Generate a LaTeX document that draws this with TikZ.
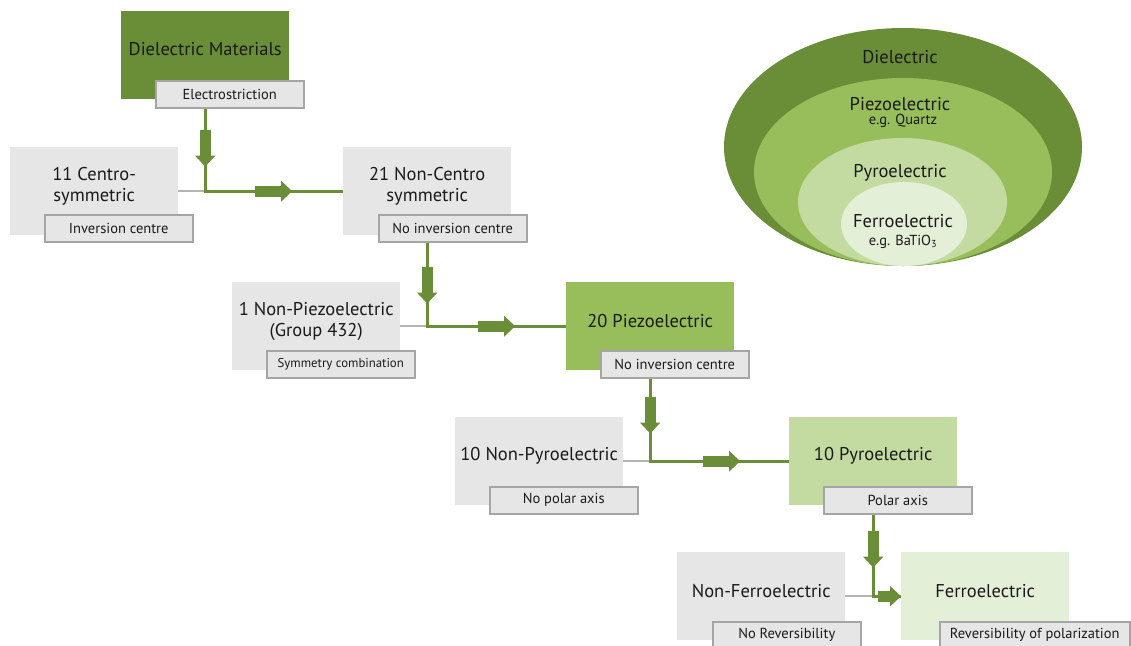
\documentclass[tikz,border=0pt]{standalone}
\usepackage{fontspec}
\setmainfont{PT Sans}
\usetikzlibrary{arrows.meta,calc}
\definecolor{dkgreen}{RGB}{106,141,56}
\definecolor{midgreen}{RGB}{151,190,90}
\definecolor{ltgreen}{RGB}{195,219,160}
\definecolor{paleg}{RGB}{228,239,216}
\definecolor{boxgray}{RGB}{230,230,230}
\definecolor{lblborder}{RGB}{165,165,165}
\definecolor{linegray}{RGB}{180,180,180}
\definecolor{txt}{RGB}{26,26,26}
\begin{document}
\begin{tikzpicture}[x=1pt,y=-1pt,
  box/.style={rectangle, fill=boxgray, minimum width=168pt, minimum height=88pt, inner sep=0pt, anchor=north west},
  btext/.style={align=center, font=\fontsize{18.5}{21.5}\selectfont, inner sep=0pt, text=txt},
  etext/.style={align=center, font=\fontsize{18.5}{21}\selectfont, inner sep=0pt, text=txt},
  stext/.style={align=center, font=\fontsize{14.5}{16}\selectfont, inner sep=0pt, text=txt},
  lbl/.style={rectangle, fill=boxgray, draw=lblborder, line width=1.5pt, minimum width=148pt, minimum height=27pt, inner sep=0pt, anchor=north west, font=\fontsize{14.5}{16}\selectfont, text=txt},
  conn/.style={dkgreen, line width=3pt},
  gline/.style={linegray, line width=2pt},
  blk/.style={dkgreen, line width=11pt, -{Triangle[width=20pt,length=11pt]}}]
\useasboundingbox (0,0) rectangle (1131,645);

% ---- nested ellipses ----
\fill[dkgreen] (903,147) ellipse [x radius=179pt, y radius=119pt];
\fill[midgreen] (903,172) ellipse [x radius=149pt, y radius=94pt];
\fill[ltgreen] (902.5,202) ellipse [x radius=104.5pt, y radius=64pt];
\fill[paleg] (904,224) ellipse [x radius=63pt, y radius=42pt];
\node[etext] (e1) at (900,57) {Dielectric};
\node[etext] (e2) at (900,104) {Piezoelectric};
\node[stext] (e2b) at (903,121) {e.g. Quartz};
\node[etext] (e3) at (900,173) {Pyroelectric};
\node[etext] (e4) at (903,221) {Ferroelectric};
\node[stext] (e4b) at (903,242) {e.g. BaTiO\textsubscript{3}};

% ---- boxes ----
\node[box, fill=dkgreen] (dm) at (121,11) {};
\node[btext] (dmt) at ($(dm.center)+(0,-6)$) {Dielectric Materials};
\node[lbl] (l0) at (155,80) {Electrostriction};

\node[box] (n11) at (10,147) {};
\node[btext] (n11t) at ($(n11.center)+(0,-5)$) {11 Centro-\\symmetric};
\node[lbl] (l11) at (44,214) {Inversion centre};

\node[box] (n21) at (343,147) {};
\node[btext] (n21t) at ($(n21.center)+(0,-5)$) {21 Non-Centro\\symmetric};
\node[lbl] (l21) at (378,214) {No inversion centre};

\node[box] (n1) at (232,282) {};
\node[btext] (n1t) at ($(n1.center)+(0,-5)$) {1 Non-Piezoelectric\\(Group 432)};
\node[lbl, font=\fontsize{12.8}{15}\selectfont] (l1) at (266,350) {Symmetry combination};

\node[box, fill=midgreen] (n20) at (566,282) {};
\node[btext] (n20t) at ($(n20.center)+(0,-5)$) {20 Piezoelectric};
\node[lbl] (l20) at (600,350) {No inversion centre};

\node[box] (n10n) at (455,417) {};
\node[btext] (n10nt) at ($(n10n.center)+(0,-5)$) {10 Non-Pyroelectric};
\node[lbl] (l10n) at (489,486) {No polar axis};

\node[box, fill=ltgreen] (n10) at (789,417) {};
\node[btext] (n10t) at ($(n10.center)+(0,-5)$) {10 Pyroelectric};
\node[lbl] (l10) at (823,486) {Polar axis};

\node[box] (nnf) at (677,552) {};
\node[btext] (nnft) at ($(nnf.center)+(0,-5)$) {Non-Ferroelectric};
\node[lbl] (lnf) at (712,621) {No Reversibility};

\node[box, fill=paleg] (nf) at (901,552) {};
\node[btext] (nft) at ($(nf.center)+(0,-5)$) {Ferroelectric};
\node[lbl, minimum width=190pt] (lf) at (939,621) {Reversibility of polarization};

% ---- connectors ----
\coordinate (s1) at (dm.center |- l0.south);
\coordinate (j1) at (dm.center |- n21.west);
\draw[gline] (n11.east) -- (j1);
\draw[conn] (s1) -- (j1) -- (n21.west);
\coordinate (a1a) at ($(s1)+(0,21)$);
\coordinate (a1b) at ($(s1)+(0,58)$);
\draw[blk] (a1a) -- (a1b);
\coordinate (a1c) at ($(j1)+(50,0)$);
\coordinate (a1d) at ($(j1)+(87,0)$);
\draw[blk] (a1c) -- (a1d);

\coordinate (s2) at (n21.center |- l21.south);
\coordinate (j2) at (n21.center |- n20.west);
\draw[gline] (n1.east) -- (j2);
\draw[conn] (s2) -- (j2) -- (n20.west);
\coordinate (a2a) at ($(s2)+(0,24)$);
\coordinate (a2b) at ($(s2)+(0,61)$);
\draw[blk] (a2a) -- (a2b);
\coordinate (a2c) at ($(j2)+(51,0)$);
\coordinate (a2d) at ($(j2)+(88,0)$);
\draw[blk] (a2c) -- (a2d);

\coordinate (s3) at (n20.center |- l20.south);
\coordinate (j3) at (n20.center |- n10.west);
\draw[gline] (n10n.east) -- (j3);
\draw[conn] (s3) -- (j3) -- (n10.west);
\coordinate (a3a) at ($(s3)+(0,18)$);
\coordinate (a3b) at ($(s3)+(0,55)$);
\draw[blk] (a3a) -- (a3b);
\coordinate (a3c) at ($(j3)+(53,0)$);
\coordinate (a3d) at ($(j3)+(90,0)$);
\draw[blk] (a3c) -- (a3d);

\coordinate (s4) at (n10.center |- l10.south);
\coordinate (j4) at (n10.center |- nf.west);
\draw[gline] (nnf.east) -- (j4);
\draw[conn] (s4) -- (j4) -- (nf.west);
\coordinate (a4a) at ($(s4)+(0,16)$);
\coordinate (a4b) at ($(s4)+(0,53)$);
\draw[blk] (a4a) -- (a4b);
\coordinate (a4c) at ($(nf.west)+(-23,0)$);
\draw[blk] (a4c) -- (nf.west);
\end{tikzpicture}
\end{document}
